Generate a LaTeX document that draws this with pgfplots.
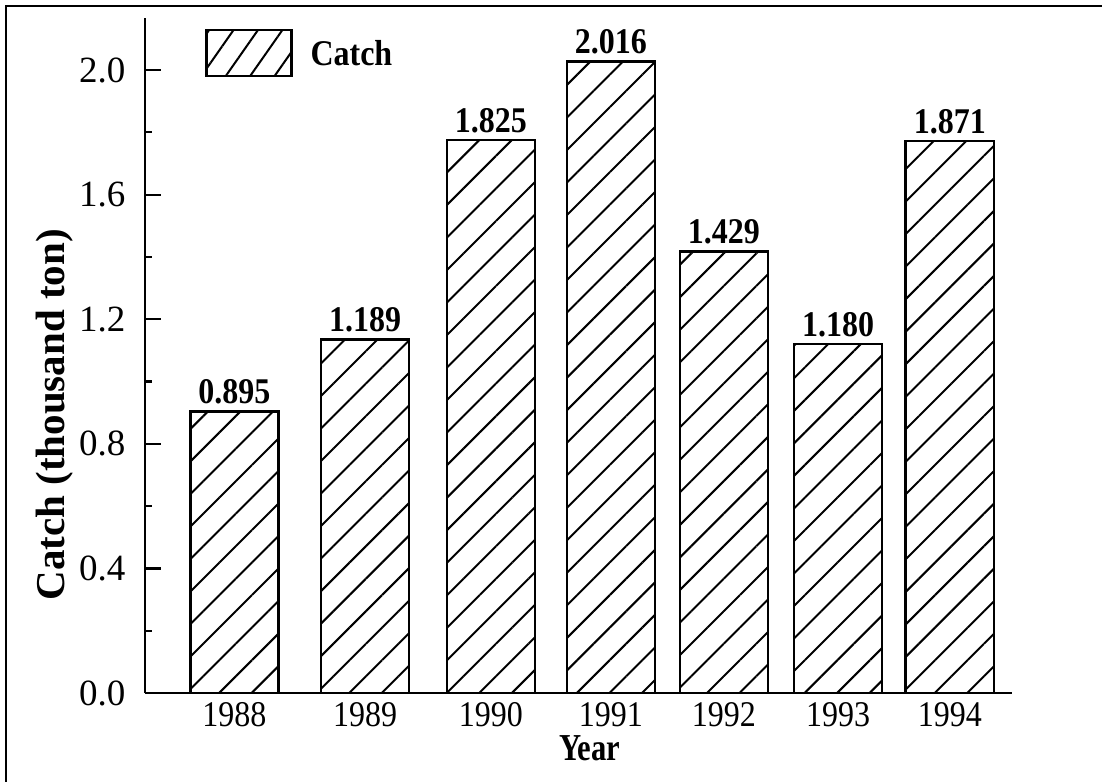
\documentclass[border=0pt]{standalone}
\usepackage{pgfplots}
\pgfplotsset{compat=1.18}
\usepackage{pgfplotstable}
\usepackage{fontspec}
\setmainfont{Liberation Serif}
\usetikzlibrary{patterns.meta}

\newcommand{\vs}[1]{\scalebox{1}[1.13]{#1}}

\pgfplotstableread{
x y lab
0     0.903 0.895
1.095 1.135 1.189
2.151 1.775 1.825
3.157 2.027 2.016
4.105 1.417 1.429
5.061 1.120 1.180
5.999 1.772 1.871
}\catchdata

\begin{document}
\begin{tikzpicture}
\useasboundingbox (0,0) rectangle (1102bp,782bp);
\draw[line width=2.5bp] (6bp,0) -- (6bp,776bp) -- (1102bp,776bp);
\begin{axis}[
  at={(145bp,89bp)}, anchor=south west,
  scale only axis, width=867bp, height=675bp,
  xmin=-0.75, xmax=6.52, ymin=0, ymax=2.167,
  axis x line*=bottom, axis y line*=left,
  axis line style={line width=2.2bp, -},
  ytick={0,0.4,0.8,1.2,1.6,2.0},
  minor y tick num=1,
  tick align=inside,
  major tick length=16bp, minor tick length=7bp,
  every tick/.style={line width=2.2bp, black},
  xtick=data,
  xticklabels={\vs{1988},\vs{1989},\vs{1990},\vs{1991},\vs{1992},\vs{1993},\vs{1994}},
  x tick style={draw=none},
  /pgf/number format/assume math mode=true,
  yticklabel={\pgfmathprintnumber[fixed, fixed zerofill, precision=1]{\tick}},
  yticklabel style={font=\fontsize{37bp}{40bp}\selectfont, xshift=-16bp},
  xticklabel style={font=\fontsize{32bp}{36bp}\selectfont, anchor=north, yshift=-6bp},
  ylabel={\textbf{Catch (thousand ton)}},
  xlabel={\scalebox{0.9}[1.12]{\textbf{Year}}},
  every axis y label/.style={at={(axis description cs:-0.104,0.412)}, rotate=90, anchor=center, font=\fontsize{41bp}{46bp}\selectfont},
  every axis x label/.style={at={(axis description cs:0.513,-0.082)}, anchor=center, font=\fontsize{34bp}{38bp}\selectfont},
  legend style={draw=none, fill=none, inner sep=0pt, at={(axis description cs:0.069,0.984)}, anchor=north west,
    nodes={inner sep=0pt, font=\bfseries\fontsize{32bp}{38bp}\selectfont},
    /tikz/every odd column/.append style={column sep=18bp}},
  legend image code/.code={\draw[pattern={Lines[angle=55,distance=20bp,line width=2bp]}, line width=2.5bp] (0bp,-23bp) rectangle (85bp,23bp);},
  clip=false,
]
\addplot[ybar, bar width=0.74, draw=black, line width=2.5bp,
  pattern={Lines[angle=45,distance=23bp,line width=2bp]},
  point meta=explicit symbolic,
  nodes near coords={\vs{\pgfplotspointmeta}},
  every node near coord/.append style={font=\bfseries\fontsize{32bp}{36bp}\selectfont, anchor=south, inner sep=3bp, yshift=3bp},
] table[x=x, y=y, meta=lab] {\catchdata};
\addlegendentry{\vs{Catch}}
\end{axis}
\end{tikzpicture}
\end{document}
